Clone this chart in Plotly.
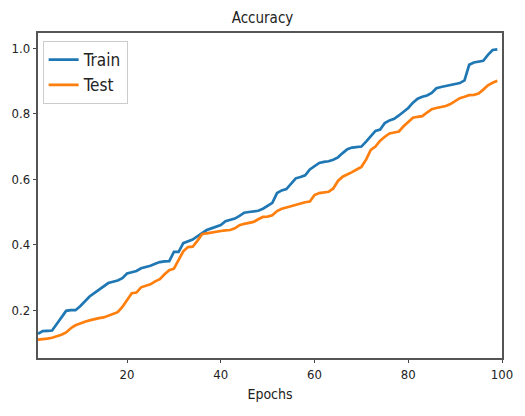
import plotly.graph_objects as go

epochs = list(range(1, 100))
train_acc = [0.128, 0.136, 0.137, 0.138, 0.158, 0.180, 0.198, 0.200, 0.200, 0.212,
             0.228, 0.242, 0.252, 0.263, 0.272, 0.283, 0.287, 0.291, 0.298, 0.312,
             0.316, 0.320, 0.328, 0.331, 0.336, 0.342, 0.347, 0.349, 0.350, 0.378,
             0.378, 0.405, 0.410, 0.416, 0.426, 0.436, 0.445, 0.450, 0.456, 0.460,
             0.472, 0.477, 0.480, 0.488, 0.498, 0.500, 0.502, 0.504, 0.510, 0.520,
             0.528, 0.558, 0.566, 0.570, 0.586, 0.603, 0.607, 0.612, 0.630, 0.640,
             0.650, 0.653, 0.655, 0.660, 0.667, 0.680, 0.692, 0.697, 0.699, 0.700,
             0.715, 0.732, 0.748, 0.752, 0.772, 0.780, 0.785, 0.795, 0.806, 0.818,
             0.834, 0.846, 0.852, 0.856, 0.864, 0.878, 0.882, 0.885, 0.890, 0.893,
             0.894, 0.902, 0.950, 0.957, 0.959, 0.962, 0.980, 0.995, 0.997]
test_acc = [0.110, 0.111, 0.113, 0.116, 0.120, 0.125, 0.132, 0.145, 0.154, 0.160,
            0.165, 0.169, 0.173, 0.176, 0.178, 0.184, 0.189, 0.194, 0.210, 0.230,
            0.252, 0.254, 0.270, 0.275, 0.279, 0.288, 0.295, 0.310, 0.322, 0.327,
            0.355, 0.380, 0.393, 0.394, 0.412, 0.432, 0.435, 0.438, 0.439, 0.442,
            0.444, 0.445, 0.450, 0.460, 0.464, 0.467, 0.470, 0.478, 0.485, 0.486,
            0.490, 0.503, 0.510, 0.514, 0.518, 0.524, 0.528, 0.530, 0.532, 0.552,
            0.558, 0.560, 0.562, 0.572, 0.595, 0.608, 0.614, 0.622, 0.630, 0.638,
            0.660, 0.690, 0.700, 0.718, 0.730, 0.740, 0.743, 0.746, 0.762, 0.776,
            0.788, 0.791, 0.793, 0.804, 0.814, 0.818, 0.820, 0.824, 0.830, 0.840,
            0.848, 0.852, 0.857, 0.858, 0.862, 0.874, 0.887, 0.895, 0.901]
x_ticks = [20, 40, 60, 80, 100]
y_ticks = [0.2, 0.4, 0.6, 0.8, 1.0]

FONT = "DejaVu Sans Condensed, DejaVu Sans"

fig = go.Figure()
fig.add_trace(go.Scatter(x=epochs, y=train_acc, mode="lines", name="Train",
                         line=dict(color="#1f77b4", width=2.7)))
fig.add_trace(go.Scatter(x=epochs, y=test_acc, mode="lines", name="Test",
                         line=dict(color="#ff7f0e", width=2.7)))

axis_common = dict(showgrid=False, zeroline=False, showline=True, linecolor="#555555",
                   linewidth=1.5, mirror=True, ticks="outside", ticklen=3.5,
                   tickcolor="#444444", tickfont=dict(family=FONT, size=13, color="#222222"))

fig.update_layout(
    width=525, height=416,
    margin=dict(l=38, r=17, t=33, b=58),
    paper_bgcolor="white", plot_bgcolor="white",
    title=dict(text="Accuracy", x=0.5, xanchor="center", y=0.957, yanchor="middle",
               font=dict(family=FONT, size=15, color="#222222")),
    xaxis=dict(range=[1, 100], tickvals=x_ticks, title=dict(text="Epochs", standoff=8,
               font=dict(family=FONT, size=14, color="#222222")), **axis_common),
    yaxis=dict(range=[0.054, 1.047], tickvals=y_ticks, tickformat=".1f", **axis_common),
    legend=dict(x=0.01, y=0.975, xanchor="left", yanchor="top",
                bgcolor="rgba(255,255,255,0.9)", bordercolor="#cccccc", borderwidth=1,
                font=dict(family=FONT, size=17, color="#222222"), itemwidth=30),
    showlegend=True,
)

fig.write_html("out.html")
